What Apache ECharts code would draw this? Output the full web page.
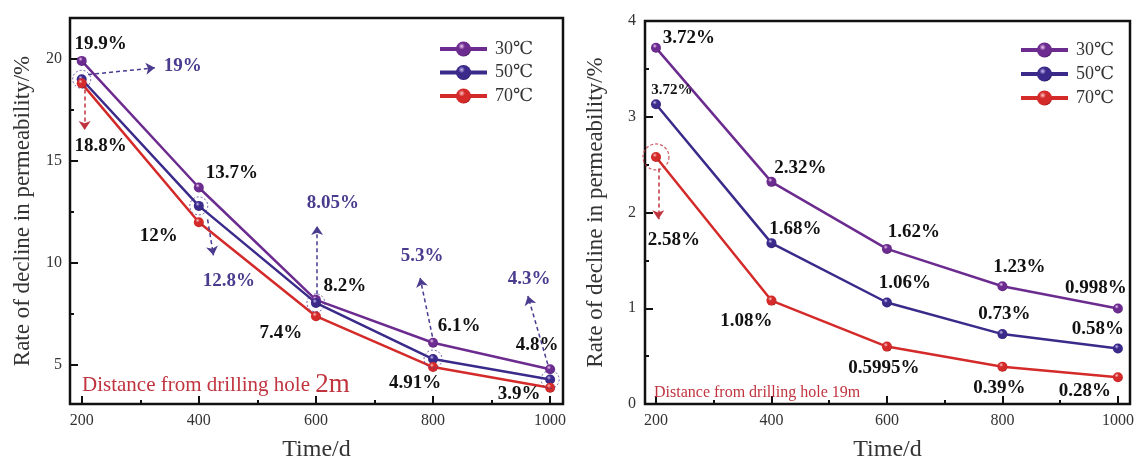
<!DOCTYPE html>
<html><head><meta charset="utf-8">
<script src="https://cdn.jsdelivr.net/npm/echarts@6/dist/echarts.min.js"></script>
<style>html,body{margin:0;padding:0;background:#fff}#c{width:1138px;height:467px}</style>
</head><body><div id="c"></div>
<script>
// ---------- data ----------
const times = [200, 400, 600, 800, 1000];
const seriesNames = ['30℃', '50℃', '70℃'];
// left panel: distance 2 m
const left30 = [19.9, 13.7, 8.2, 6.1, 4.8];
const left50 = [19, 12.8, 8.05, 5.3, 4.3];
const left70 = [18.8, 12, 7.4, 4.91, 3.9];
// right panel: distance 19 m
const right30 = [3.72, 2.32, 1.62, 1.23, 0.998];
const right50 = [3.13, 1.68, 1.06, 0.73, 0.58];
const right70 = [2.58, 1.08, 0.5995, 0.39, 0.28];
// printed labels (as in the figure)
const left30Text = ['19.9%', '13.7%', '8.2%', '6.1%', '4.8%'];
const left50Text = ['19%', '12.8%', '8.05%', '5.3%', '4.3%'];
const left70Text = ['18.8%', '12%', '7.4%', '4.91%', '3.9%'];
const right30Text = ['3.72%', '2.32%', '1.62%', '1.23%', '0.998%'];
const right50Text = ['3.72%', '1.68%', '1.06%', '0.73%', '0.58%'];
const right70Text = ['2.58%', '1.08%', '0.5995%', '0.39%', '0.28%'];
// tick values
const xTickValues = [200, 400, 600, 800, 1000];
const xMinorValues = [300, 500, 700, 900];
const leftYTicks = [5, 10, 15, 20];
const leftYMinor = [7.5, 12.5, 17.5];
const leftNote = 'Distance from drilling hole ';
const leftNoteBig = '2m';
const rightNote = 'Distance from drilling hole 19m';

// ---------- layout / style ----------
const FONT = '"Liberation Serif", "DejaVu Serif", serif';
const C30 = {base: '#6c2b8f', hi: '#f0c8f4', dark: '#3a1055'};
const C50 = {base: '#3b2a8a', hi: '#cbbcf2', dark: '#1b1050'};
const C70 = {base: '#d42a2a', hi: '#fbc4c4', dark: '#8a0f0f'};
const IND = '#4a3b8f';
const RED = '#c0343f';

const offL30 = [[19,-17],[33,-14],[29,-14],[26,-17],[-13,-24]];
const offL50 = [[101,-13],[30,75],[17,-100],[-11,-103],[-21,-100]];
const offL70 = [[19,63],[-40,14],[-35,17],[-18,16],[-31,6]];
const offR30 = [[33,-10],[29,-14],[27,-17],[17,-19],[-22,-20]];
const offR50 = [[16,-14],[24,-14],[18,-19],[2,-20],[-20,-19]];
const offR70 = [[18,83],[-25,21],[-3,21],[-3,21],[-33,14]];

function sphere(c) {
  return new echarts.graphic.RadialGradient(0.38, 0.32, 0.72, [
    {offset: 0, color: c.hi}, {offset: 0.3, color: c.base}, {offset: 0.85, color: c.base}, {offset: 1, color: c.dark}
  ]);
}

function lineSeries(name, vals, texts, offs, ax, col, labColor, labSize) {
  return {
    type: 'line', name: name, xAxisIndex: ax, yAxisIndex: ax,
    symbol: 'circle', symbolSize: 10, z: 3,
    itemStyle: {color: sphere(col)},
    lineStyle: {color: col.base, width: 2.5},
    data: vals.map((v, i) => ({
      value: [times[i], v],
      label: {offset: offs[i], fontSize: (labSize && labSize[i]) || 19}
    })),
    label: {
      show: true, position: 'inside', color: labColor, fontFamily: FONT,
      fontWeight: 'bold', fontSize: 19,
      formatter: p => texts[p.dataIndex]
    }
  };
}

function arrow(a, b, color) {
  return [{coord: a, lineStyle: {color: color}}, {coord: b}];
}

// annotation arrows in data coordinates
const leftArrows50 = [
  arrow([211, 19.23], [325, 19.56], IND),
  arrow([415, 12.14], [425, 10.38], IND),
  arrow([602, 8.47], [602, 11.82], IND),
  arrow([799, 6.40], [778, 9.27], IND),
  arrow([996, 5.04], [962, 8.39], IND),
  arrow([205, 18.5], [205, 16.52], RED)
];
const rightArrows70 = [arrow([204, 2.46], [204, 1.93], RED)];

const markArrows = (list) => ({
  silent: true, symbol: ['none', 'arrow'], symbolSize: 9,
  label: {show: false},
  lineStyle: {type: [4, 3], width: 1.5},
  data: list
});

const plain = v => String(v);

function xAxes(grid, min, max) {
  return [
    {type: 'value', gridIndex: grid, min: min, max: max, position: 'bottom',
     axisLine: {show: false, onZero: false}, splitLine: {show: false},
     axisTick: {show: true, inside: true, length: 8, customValues: xTickValues, lineStyle: {color: '#111', width: 2}},
     axisLabel: {customValues: xTickValues, formatter: plain, margin: 9, fontFamily: FONT, fontSize: 16, color: '#333'},
     name: 'Time/d', nameLocation: 'middle', nameGap: 34,
     nameTextStyle: {fontFamily: FONT, fontSize: 24, color: '#333'}},
    {type: 'value', gridIndex: grid, min: min, max: max, position: 'bottom',
     axisLine: {show: false, onZero: false}, splitLine: {show: false},
     axisTick: {show: true, inside: true, length: 4, customValues: xMinorValues, lineStyle: {color: '#111', width: 2}},
     axisLabel: {show: false}}
  ];
}

const yName = {
  name: 'Rate of decline in permeability/%', nameLocation: 'middle',
  nameTextStyle: {fontFamily: FONT, fontSize: 23, color: '#333'}
};

const option = {
  backgroundColor: '#fff',
  animation: false,
  grid: [
    {left: 70, top: 18, width: 493, height: 394, show: true, borderColor: '#111', borderWidth: 2.5, backgroundColor: 'transparent'},
    {left: 645, top: 21, width: 485, height: 391, show: true, borderColor: '#111', borderWidth: 2.5, backgroundColor: 'transparent'}
  ],
  xAxis: [].concat(xAxes(0, 180, 1022), xAxes(1, 181, 1021)),
  yAxis: [
    Object.assign({type: 'value', gridIndex: 0, min: 3.1, max: 22, position: 'left',
     axisLine: {show: false, onZero: false}, splitLine: {show: false},
     axisTick: {show: true, inside: true, length: 8, customValues: leftYTicks, lineStyle: {color: '#111', width: 2}},
     axisLabel: {customValues: leftYTicks, formatter: plain, margin: 8, fontFamily: FONT, fontSize: 16, color: '#333'},
     nameGap: 36}, yName),
    {type: 'value', gridIndex: 0, min: 3.1, max: 22, position: 'left',
     axisLine: {show: false, onZero: false}, splitLine: {show: false},
     axisTick: {show: true, inside: true, length: 4, customValues: leftYMinor, lineStyle: {color: '#111', width: 2}},
     axisLabel: {show: false}},
    Object.assign({type: 'value', gridIndex: 1, min: 0, max: 4, interval: 1, position: 'left',
     axisLine: {show: false, onZero: false}, splitLine: {show: false},
     axisTick: {show: true, inside: true, length: 8, lineStyle: {color: '#111', width: 2}},
     minorTick: {show: true, splitNumber: 2, length: 4, lineStyle: {color: '#111', width: 2}},
     axisLabel: {margin: 9, fontFamily: FONT, fontSize: 16, color: '#333'},
     nameGap: 38}, yName),
    {type: 'value', gridIndex: 1, min: 0, max: 4, position: 'left', show: false}
  ],
  legend: [
    {data: seriesNames, orient: 'vertical', left: 433, top: 35, itemWidth: 47, itemHeight: 19, itemGap: 5.5,
     lineStyle: {width: 4}, textStyle: {fontFamily: FONT, fontSize: 18, color: '#333', padding: [0, 0, 0, 3]}},
    {data: seriesNames, orient: 'vertical', left: 1014, top: 36, itemWidth: 47, itemHeight: 19, itemGap: 6,
     lineStyle: {width: 4}, textStyle: {fontFamily: FONT, fontSize: 18, color: '#333', padding: [0, 0, 0, 3]}}
  ],
  series: [
    lineSeries(seriesNames[0], left30, left30Text, offL30, 0, C30, '#111'),
    lineSeries(seriesNames[1], left50, left50Text, offL50, 0, C50, IND),
    lineSeries(seriesNames[2], left70, left70Text, offL70, 0, C70, '#111'),
    {type: 'scatter', name: 'c50', xAxisIndex: 0, yAxisIndex: 0, symbol: 'circle', symbolSize: 18, z: 4, silent: true,
     itemStyle: {color: 'rgba(0,0,0,0)', borderColor: IND, borderWidth: 1, borderType: [2, 2]},
     data: left50.map((v, i) => [times[i], v]),
     markLine: markArrows(leftArrows50)},
    lineSeries(seriesNames[0], right30, right30Text, offR30, 2, C30, '#111'),
    lineSeries(seriesNames[1], right50, right50Text, offR50, 2, C50, '#111', [15]),
    lineSeries(seriesNames[2], right70, right70Text, offR70, 2, C70, '#111'),
    {type: 'scatter', name: 'c70', xAxisIndex: 2, yAxisIndex: 2, symbol: 'circle', symbolSize: 26, z: 4, silent: true,
     itemStyle: {color: 'rgba(0,0,0,0)', borderColor: RED, borderWidth: 1.2, borderType: [3, 2]},
     data: [[times[0], right70[0]]],
     markLine: markArrows(rightArrows70)}
  ],
  graphic: [
    {type: 'text', x: 82, y: 385, z: 10,
     style: {text: '{a|' + leftNote + '}{b|' + leftNoteBig + '}', verticalAlign: 'middle', align: 'left',
       rich: {a: {fontSize: 21, fontFamily: FONT, fill: RED, color: RED},
              b: {fontSize: 27, fontFamily: FONT, fill: RED, color: RED}}}},
    {type: 'text', x: 654, y: 393, z: 10,
     style: {text: rightNote, verticalAlign: 'middle', align: 'left', fontSize: 16, fontFamily: FONT, fill: RED}}
  ]
};

const chart = echarts.init(document.getElementById('c'), null, {renderer: 'canvas'});
chart.setOption(option);
</script>
</body></html>
